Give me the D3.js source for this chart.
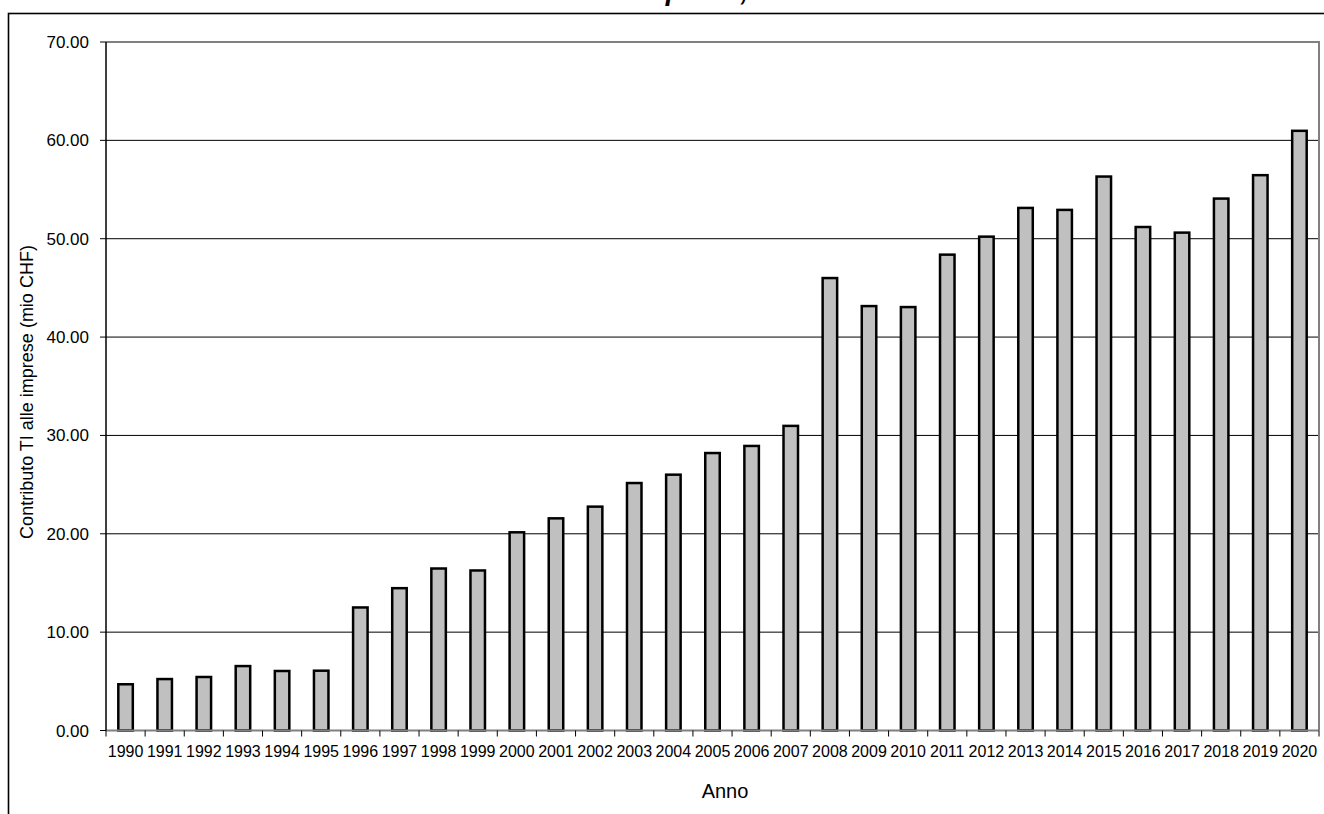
<!DOCTYPE html>
<html>
<head>
<meta charset="utf-8">
<script src="https://cdn.jsdelivr.net/npm/d3@7"></script>
<style>
  html, body { margin: 0; padding: 0; background: #fff; }
  text { font-family: "Liberation Sans", Arial, sans-serif; fill: #000; }
</style>
</head>
<body>
<div id="container_chart"></div>
<script>
// anni e contributo TI alle imprese (mio CHF)
var anni = ["1990","1991","1992","1993","1994","1995","1996","1997","1998","1999",
            "2000","2001","2002","2003","2004","2005","2006","2007","2008","2009",
            "2010","2011","2012","2013","2014","2015","2016","2017","2018","2019","2020"];
var contributo = [4.70, 5.23, 5.44, 6.55, 6.05, 6.08, 12.51, 14.47, 16.47, 16.27,
                  20.15, 21.57, 22.76, 25.16, 26.01, 28.21, 28.93, 30.97, 46.00, 43.15,
                  43.05, 48.38, 50.21, 53.13, 52.93, 56.32, 51.19, 50.62, 54.08, 56.46, 60.97];
var yTicks = [0, 10, 20, 30, 40, 50, 60, 70];

var titolo = "Contributo TI alle imprese, 1990 - 2020";
var titoloY = "Contributo TI alle imprese (mio CHF)";
var titoloX = "Anno";

viz();

function viz() {
  var W = 1324, H = 814;
  var margin = {top: 42, right: 5, bottom: 83.5, left: 106};
  var width = W - margin.left - margin.right,
      height = H - margin.top - margin.bottom;

  var svg = d3.select("#container_chart")
    .append("svg")
      .attr("width", W)
      .attr("height", H)
      .attr("role", "img")
      .attr("aria-label", "Istogramma del contributo TI alle imprese in milioni di CHF per anno, 1990-2020: cresce da circa 5 a circa 61");

  // titolo, quasi tutto fuori dall'area visibile (come nell'originale)
  svg.append("text")
    .attr("x", 395)
    .attr("y", 0)
    .style("font-size", "28px")
    .style("font-weight", "bold")
    .style("font-style", "italic")
    .text(titolo);

  // bordo del grafico
  svg.append("rect")
    .attr("x", 8.5).attr("y", 13.5)
    .attr("width", 1400).attr("height", 900)
    .attr("fill", "none")
    .attr("stroke", "#000")
    .attr("stroke-width", 1.6);

  var g = svg.append("g")
    .attr("transform", "translate(" + margin.left + "," + margin.top + ")");

  var x = d3.scaleBand()
    .domain(anni)
    .range([0, width])
    .padding(0);

  var y = d3.scaleLinear()
    .domain([0, 70])
    .range([height, 0]);

  // griglia
  g.append("g")
    .selectAll("line")
    .data(yTicks.filter(function(d) { return d > 0 && d < 70; }))
    .enter()
    .append("line")
      .attr("x1", 0).attr("x2", width)
      .attr("y1", function(d) { return y(d); })
      .attr("y2", function(d) { return y(d); })
      .attr("stroke", "#000")
      .attr("stroke-width", 1);

  // bordo area del tracciato (alto e destra grigi)
  g.append("path")
    .attr("d", "M0," + y(70) + "H" + width + "V" + height)
    .attr("fill", "none")
    .attr("stroke", "#808080")
    .attr("stroke-width", 2);

  // barre
  var barW = 14.5;
  g.selectAll("rect.bar")
    .data(contributo)
    .enter()
    .append("rect")
      .attr("class", "bar")
      .attr("x", function(d, i) { return x(anni[i]) + x.bandwidth() / 2 - barW / 2; })
      .attr("y", function(d) { return y(d); })
      .attr("width", barW)
      .attr("height", function(d) { return height - y(d); })
      .attr("fill", "#c0c0c0")
      .attr("stroke", "#000")
      .attr("stroke-width", 2.5);

  // asse X
  var xAxis = g.append("g").attr("transform", "translate(0," + height + ")");
  xAxis.append("line")
    .attr("x1", 0).attr("x2", width)
    .attr("stroke", "#808080").attr("stroke-width", 2);
  var bordi = anni.map(function(d) { return x(d); }).concat([width]);
  xAxis.selectAll("line.tick")
    .data(bordi)
    .enter()
    .append("line")
      .attr("class", "tick")
      .attr("x1", function(d) { return d; })
      .attr("x2", function(d) { return d; })
      .attr("y1", 0).attr("y2", 6)
      .attr("stroke", "#000").attr("stroke-width", 1);
  xAxis.selectAll("text")
    .data(anni)
    .enter()
    .append("text")
      .attr("x", function(d) { return x(d) + x.bandwidth() / 2; })
      .attr("y", 26)
      .attr("text-anchor", "middle")
      .style("font-size", "16px")
      .text(function(d) { return d; });

  // asse Y
  var yAxis = g.append("g");
  yAxis.append("line")
    .attr("x1", 0).attr("x2", 0)
    .attr("y1", 0).attr("y2", height)
    .attr("stroke", "#000").attr("stroke-width", 1.5);
  yAxis.selectAll("line.tick")
    .data(yTicks)
    .enter()
    .append("line")
      .attr("class", "tick")
      .attr("x1", -6).attr("x2", 0)
      .attr("y1", function(d) { return y(d); })
      .attr("y2", function(d) { return y(d); })
      .attr("stroke", "#000").attr("stroke-width", 1);
  yAxis.selectAll("text")
    .data(yTicks)
    .enter()
    .append("text")
      .attr("x", -17)
      .attr("y", function(d) { return y(d) + 6; })
      .attr("text-anchor", "end")
      .style("font-size", "17px")
      .text(function(d) { return d3.format(".2f")(d); });

  // titoli degli assi
  svg.append("text")
    .attr("transform", "translate(32.5,392) rotate(-90)")
    .attr("text-anchor", "middle")
    .style("font-size", "18px")
    .text(titoloY);

  svg.append("text")
    .attr("x", 725)
    .attr("y", 797.5)
    .attr("text-anchor", "middle")
    .style("font-size", "20px")
    .text(titoloX);
}
</script>
</body>
</html>
